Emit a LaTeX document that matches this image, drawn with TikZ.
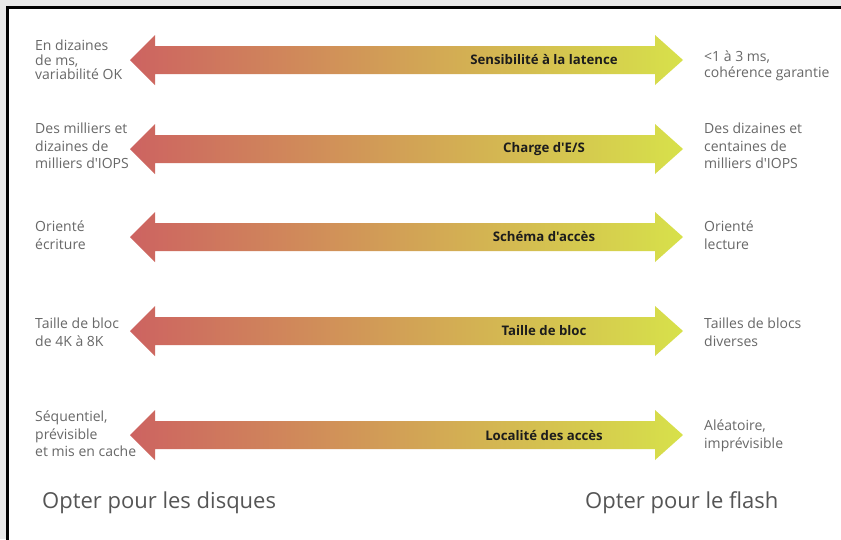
\documentclass[tikz,border=0pt]{standalone}
\usepackage{fontspec}
\setmainfont{Open Sans}[Ligatures=TeXOff]
\newfontfamily\choicefont{Open Sans}
\definecolor{bggray}{RGB}{231,231,231}
\definecolor{txtgray}{RGB}{104,104,104}
\definecolor{labelblack}{RGB}{28,28,28}
\definecolor{choicegray}{RGB}{85,85,85}
\definecolor{arrowleft}{RGB}{205,99,97}
\definecolor{arrowright}{RGB}{215,225,74}
\begin{document}
\begin{tikzpicture}[x=1pt,y=-1pt,
  sidetext/.style={font=\fontsize{14}{17.5}\selectfont, text=txtgray, align=left, inner sep=0pt, anchor=west},
  axislabel/.style={font=\fontsize{13.2}{15}\selectfont\bfseries, text=labelblack, inner sep=0pt},
  choice/.style={font=\choicefont\fontsize{22}{24}\selectfont, text=choicegray, inner sep=0pt, anchor=base west},
  scalearrow/.style={left color=arrowleft, right color=arrowright}]
\useasboundingbox (0,0) rectangle (841,539);
\clip (0,0) rectangle (841,539);
% page background and frame
\fill[bggray] (0,0) rectangle (841,539);
\filldraw[fill=white, draw=black, line width=3pt] (7.5,7.5) rectangle (860,560);
% double-headed gradient arrows, one per criterion
\foreach \y in {60,149,237,331,435}{
  \shade[scalearrow] (130,\y) -- (155,\y-25) -- (155,\y-14) -- (655,\y-14)
    -- (655,\y-25) -- (683,\y) -- (655,\y+25) -- (655,\y+14)
    -- (155,\y+14) -- (155,\y+25) -- cycle;
}
% criteria
\node[axislabel] (c1) at (544,60) {Sensibilité à la latence};
\node[axislabel] (c2) at (544,149) {Charge d'E/S};
\node[axislabel] (c3) at (544,237) {Schéma d'accès};
\node[axislabel] (c4) at (544,331) {Taille de bloc};
\node[axislabel] (c5) at (544,435) {Localité des accès};
% disk side
\node[sidetext, font=\fontsize{14}{14.5}\selectfont] (l1) at (35,60) {En dizaines\\de ms,\\variabilité OK};
\node[sidetext] (l2) at (35,146) {Des milliers et\\dizaines de\\milliers d'IOPS};
\node[sidetext] (l3) at (35,235) {Orienté\\écriture};
\node[sidetext] (l4) at (35,332) {Taille de bloc\\de 4K à 8K};
\node[sidetext] (l5) at (35,434) {Séquentiel,\\prévisible\\et mis en cache};
% flash side
\node[sidetext, font=\fontsize{14}{16}\selectfont] (r1) at (704,66) {<1 à 3 ms,\\cohérence garantie};
\node[sidetext] (r2) at (704,146) {Des dizaines et\\centaines de\\milliers d'IOPS};
\node[sidetext] (r3) at (704,235) {Orienté\\lecture};
\node[sidetext] (r4) at (704,332) {Tailles de blocs\\diverses};
\node[sidetext] (r5) at (704,436) {Aléatoire,\\imprévisible};
% conclusions
\node[choice] (disk) at (42,508) {Opter pour les disques};
\node[choice] (flash) at (585,508) {Opter pour le flash};
\end{tikzpicture}
\end{document}
